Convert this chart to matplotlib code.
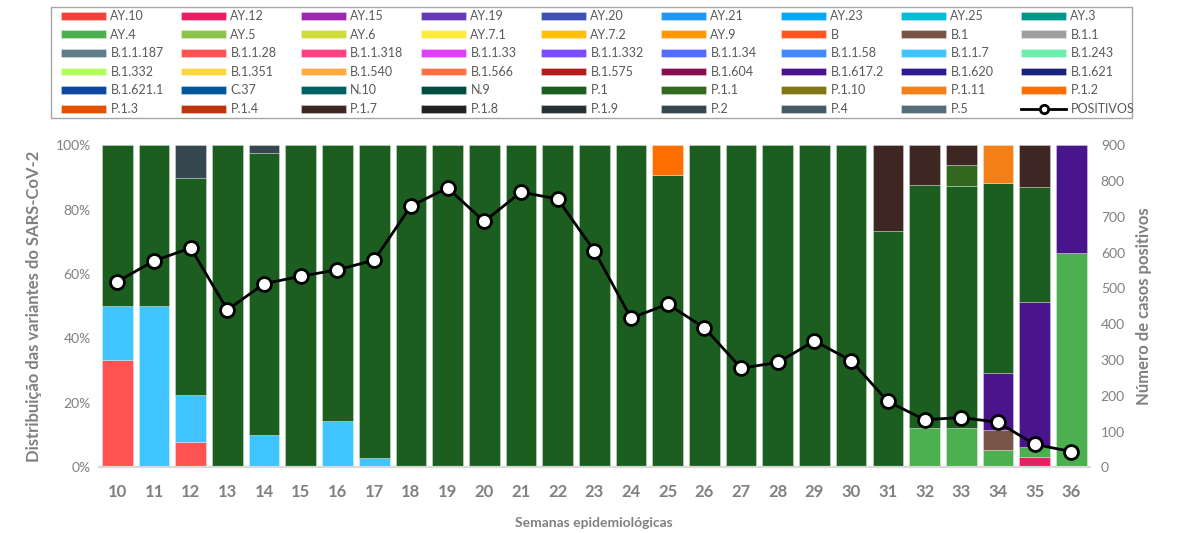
import matplotlib
matplotlib.use("Agg")
import matplotlib.pyplot as plt
from matplotlib.patches import Rectangle
import numpy as np

# semanas epidemiologicas
weeks = list(range(10, 37))

# variantes (ordem da legenda) e cores
variants = [
    "AY.10", "AY.12", "AY.15", "AY.19", "AY.20", "AY.21", "AY.23", "AY.25", "AY.3",
    "AY.4", "AY.5", "AY.6", "AY.7.1", "AY.7.2", "AY.9", "B", "B.1", "B.1.1",
    "B.1.1.187", "B.1.1.28", "B.1.1.318", "B.1.1.33", "B.1.1.332", "B.1.1.34", "B.1.1.58", "B.1.1.7", "B.1.243",
    "B.1.332", "B.1.351", "B.1.540", "B.1.566", "B.1.575", "B.1.604", "B.1.617.2", "B.1.620", "B.1.621",
    "B.1.621.1", "C.37", "N.10", "N.9", "P.1", "P.1.1", "P.1.10", "P.1.11", "P.1.2",
    "P.1.3", "P.1.4", "P.1.7", "P.1.8", "P.1.9", "P.2", "P.4", "P.5",
]
colors = [
    "#F44336", "#E91E63", "#9C27B0", "#673AB7", "#3F51B5", "#2196F3", "#03A9F4", "#00BCD4", "#009688",
    "#4CAF50", "#8BC34A", "#CDDC39", "#FFEB3B", "#FFC107", "#FF9800", "#FF5722", "#795548", "#9E9E9E",
    "#607D8B", "#FF5252", "#FF4081", "#E040FB", "#7C4DFF", "#536DFE", "#448AFF", "#40C4FF", "#69F0AE",
    "#B2FF59", "#FFD740", "#FFAB40", "#FF6E40", "#B71C1C", "#880E4F", "#4A148C", "#311B92", "#1A237E",
    "#0D47A1", "#01579B", "#006064", "#004D40", "#1B5E20", "#33691E", "#827717", "#F57F17", "#FF6F00",
    "#E65100", "#BF360C", "#3E2723", "#212121", "#263238", "#37474F", "#455A64", "#546E7A",
]

# percentuais por semana (semanas 10..36), apenas variantes presentes
ay_12 = [0]*25 + [3.1, 0]
ay_4 = [0]*22 + [12.3, 12.3, 5.5, 3.1, 66.6]
b_1 = [0]*24 + [6.1, 0, 0]
b_1_1_28 = [33.3, 0, 8.0] + [0]*24
b_1_1_7 = [16.7, 50, 14.3, 0, 10.0, 0, 14.3, 3.0] + [0]*19
b_1_617_2 = [0]*24 + [17.6, 45.2, 33.4]
p_1 = [50, 50, 67.5, 100, 87.5, 100, 85.7, 97,
       100, 100, 100, 100, 100, 100, 100, 90.9,
       100, 100, 100, 100, 100, 73.3, 75.3, 75.2, 59.0, 35.6, 0]
p_1_1 = [0]*23 + [6.3, 0, 0, 0]
p_1_11 = [0]*24 + [11.8, 0, 0]
p_1_2 = [0]*15 + [9.1] + [0]*11
p_1_7 = [0]*21 + [26.7, 12.4, 6.2, 0, 13.0, 0]
p_2 = [0, 0, 10.2, 0, 2.5] + [0]*22

shares = {
    "AY.12": ay_12, "AY.4": ay_4, "B.1": b_1, "B.1.1.28": b_1_1_28,
    "B.1.1.7": b_1_1_7, "B.1.617.2": b_1_617_2, "P.1": p_1, "P.1.1": p_1_1,
    "P.1.11": p_1_11, "P.1.2": p_1_2, "P.1.7": p_1_7, "P.2": p_2,
}

# numero de casos positivos
positivos = [519, 577, 613, 440, 513, 534, 552, 579, 730, 781, 687, 769, 750, 605,
             417, 456, 390, 277, 293, 353, 298, 184, 133, 139, 126, 64, 44]

grey = "#808080"
plt.rcParams["font.family"] = ["Lato", "DejaVu Sans"]

W, H = 1187, 533
fig = plt.figure(figsize=(W / 100, H / 100), dpi=100)
ax = fig.add_axes([0.0834, 0.1233, 0.8346, 0.6041])
ax2 = ax.twinx()

x = np.arange(len(weeks))
bottom = np.zeros(len(weeks))
handles = []
for name, col in zip(variants, colors):
    vals = np.array(shares.get(name, [0]*len(weeks)), dtype=float)
    h = np.where(vals > 0, vals, np.nan)
    bc = ax.bar(x, h, 0.835, bottom=bottom, color=col, edgecolor=(1, 1, 1, 0.35),
                linewidth=0.6, label=name, zorder=2)
    handles.append(bc)
    bottom = bottom + vals

line, = ax2.plot(x, positivos, color="black", linewidth=2, marker="o", markersize=10,
                 markerfacecolor="white", markeredgecolor="black", markeredgewidth=2,
                 label="POSITIVOS", zorder=3)

ax.set_xlim(-0.5, len(weeks) - 0.5)
ax.set_ylim(0, 100)
ax2.set_ylim(0, 900)
ax.set_yticks(np.arange(0, 101, 20))
ax.set_yticklabels([f"{v}%" for v in range(0, 101, 20)])
ax2.set_yticks(np.arange(0, 901, 100))
ax.set_xticks(x)
ax.set_xticklabels([str(w) for w in weeks], fontsize=12, fontweight="bold", color=grey)

for a in (ax, ax2):
    for s in ("top", "left", "right"):
        a.spines[s].set_visible(False)
    a.spines["bottom"].set_color("#D9D9D9")
    a.spines["bottom"].set_linewidth(1.5)
    a.tick_params(length=0)
ax.tick_params(axis="y", labelsize=10, labelcolor=grey, pad=6)
ax.tick_params(axis="x", pad=12)
ax2.tick_params(axis="y", labelsize=10, labelcolor=grey, pad=8)

ax.set_ylabel("Distribuição das variantes do SARS-CoV-2", fontsize=12, fontweight="bold",
              color=grey, labelpad=10)
ax2.set_ylabel("Número de casos positivos", fontsize=12, fontweight="bold",
               color=grey, labelpad=8)
ax.set_xlabel("Semanas epidemiológicas", fontsize=10, fontweight="bold", color=grey, labelpad=12)

# legenda: 9 colunas de largura igual, preenchida por linha
items = handles + [line]
labels = variants + ["POSITIVOS"]
ncol, nrow = 9, 6
fig.add_artist(Rectangle((51 / W, 1 - 118 / H), 1081 / W, 111 / H, transform=fig.transFigure,
                         fill=False, edgecolor="#A6A6A6", linewidth=1))
for c in range(ncol):
    idx = [r * ncol + c for r in range(nrow)]
    leg = fig.legend([items[i] for i in idx], [labels[i] for i in idx],
                     loc="upper left", bbox_to_anchor=((61 + 120 * c) / W, 1 - 10 / H),
                     fontsize=9, frameon=False, handlelength=3.6, handleheight=0.6,
                     handletextpad=0.35, labelspacing=0.53, borderpad=0,
                     borderaxespad=0, markerscale=0.6)
    for t in leg.get_texts():
        t.set_color("#595959")

fig.savefig("out.png", dpi=100)
